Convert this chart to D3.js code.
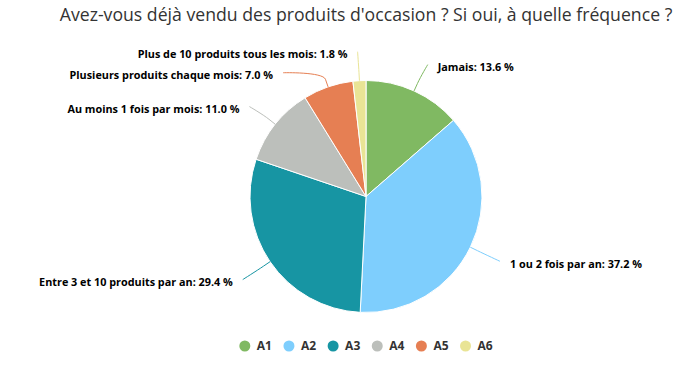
<!DOCTYPE html>
<html>
<head>
<meta charset="utf-8">
<script src="https://cdn.jsdelivr.net/npm/d3@7"></script>
<style>
  html, body { margin: 0; padding: 0; background: #fff; }
  svg { display: block; }
</style>
</head>
<body>
<svg id="chart" width="680" height="368"></svg>
<script>
// ---- data ----
const titleText = "Avez-vous déjà vendu des produits d'occasion ? Si oui, à quelle fréquence ?";
const categories = ["A1", "A2", "A3", "A4", "A5", "A6"];
const labels = [
  "Jamais",
  "1 ou 2 fois par an",
  "Entre 3 et 10 produits par an",
  "Au moins 1 fois par mois",
  "Plusieurs produits chaque mois",
  "Plus de 10 produits tous les mois"
];
const values = [13.6, 37.2, 29.4, 11.0, 7.0, 1.8];
const colors = ["#80b962", "#7ecefd", "#1795a3", "#bcbfbb", "#e67f53", "#e9e495"];

// ---- layout ----
const W = 680, H = 368;
const cx = 366, cy = 196.5, r = 116;
const labelDist = 30;      // distance of labels beyond pie edge
const labelPad = 10;       // gap between connector end and text
const minGap = 21;         // min vertical spacing of labels on a side
const FONT = "'Open Sans', 'DejaVu Sans', sans-serif";

const svg = d3.select("#chart");

// title
const title = svg.append("text")
  .attr("x", cx).attr("y", 21)
  .attr("text-anchor", "middle")
  .style("font-family", FONT)
  .style("font-size", "18px")
  .style("fill", "#333")
  .text(titleText);
(function fit(node, target) {
  const w = node.getComputedTextLength();
  const fs = parseFloat(node.style.fontSize);
  node.style.fontSize = (fs * target / w) + "px";
})(title.node(), 613);

const data = values.map((v, i) => ({ cat: categories[i], label: labels[i], value: v, color: colors[i] }));

const pie = d3.pie().value(d => d.value).sort(null).startAngle(0).endAngle(2 * Math.PI);
const arcs = pie(data);
const arcGen = d3.arc().innerRadius(0).outerRadius(r);

const g = svg.append("g").attr("transform", `translate(${cx},${cy})`);
g.selectAll("path.slice").data(arcs).enter().append("path")
  .attr("class", "slice")
  .attr("d", arcGen)
  .attr("fill", d => d.data.color)
  .attr("stroke", "#ffffff")
  .attr("stroke-width", 1)
  .attr("stroke-linejoin", "round");

// label positions
const R = r + labelDist;
const lab = arcs.map(a => {
  const m = (a.startAngle + a.endAngle) / 2;
  return {
    a, m,
    left: Math.sin(m) < 0,
    y: -R * Math.cos(m) + 1,
    x: (R + 3) * Math.sin(m),
    moved: false
  };
});
// overlap resolution per side (push downwards from the top)
["left", "right"].forEach(side => {
  const items = lab.filter(l => (side === "left") === l.left).sort((p, q) => p.y - q.y);
  for (let i = 1; i < items.length; i++) {
    if (items[i].y - items[i - 1].y < minGap) {
      items[i].y = items[i - 1].y + minGap;
      items[i].moved = true;
    }
  }
});
lab.forEach(l => {
  if (l.moved) {
    const RR = R + 3;
    const dy = Math.max(-RR, Math.min(RR, l.y));
    l.x = (l.left ? -1 : 1) * Math.sqrt(RR * RR - dy * dy);
  }
});

const fmt = d3.format(".1f");
const lg = g.append("g");
lab.forEach(l => {
  const touch = [r * Math.sin(l.m), -r * Math.cos(l.m)];
  const rb = r + 8;
  const brk = [rb * Math.sin(l.m), -rb * Math.cos(l.m)];
  const p = d3.path();
  p.moveTo(l.x, l.y);
  p.bezierCurveTo(l.x, l.y, 2 * brk[0] - touch[0], 2 * brk[1] - touch[1], brk[0], brk[1]);
  p.lineTo(touch[0], touch[1]);
  lg.append("path")
    .attr("d", p.toString())
    .attr("fill", "none")
    .attr("stroke", l.a.data.color)
    .attr("stroke-width", 1);
  lg.append("text")
    .attr("class", "dl")
    .attr("x", l.x + (l.left ? -labelPad : labelPad))
    .attr("y", l.y + 2.5)
    .attr("dy", "0.35em")
    .attr("text-anchor", l.left ? "end" : "start")
    .style("font-family", FONT)
    .style("font-weight", "bold")
    .style("font-size", "10px")
    .style("fill", "#000")
    .text(`${l.a.data.label}: ${fmt(l.a.data.value)} %`);
});
// fit data-label font to reference width of the longest label
(function () {
  const nodes = lg.selectAll("text.dl").nodes();
  const ref = nodes[5];
  const fs = 10 * 210 / ref.getComputedTextLength();
  nodes.forEach(n => n.style.fontSize = fs + "px");
})();

// legend
const legend = svg.append("g");
const items = legend.selectAll("g").data(data).enter().append("g");
items.append("circle").attr("r", 5.5).attr("cy", 0).attr("cx", 0).attr("fill", d => d.color);
items.append("text")
  .attr("x", 12).attr("dy", "0.35em")
  .style("font-family", FONT)
  .style("font-weight", "bold")
  .style("font-size", "12px")
  .style("fill", "#333")
  .text(d => d.cat);
let xpos = 0;
const itemGap = 17;
items.each(function () {
  const t = d3.select(this).select("text").node();
  d3.select(this).attr("transform", `translate(${xpos},0)`);
  xpos += 12 + t.getComputedTextLength() + itemGap;
});
const totalW = xpos - itemGap + 5.5;
legend.attr("transform", `translate(${cx - totalW / 2 + 5.5},346)`);
</script>
</body>
</html>
